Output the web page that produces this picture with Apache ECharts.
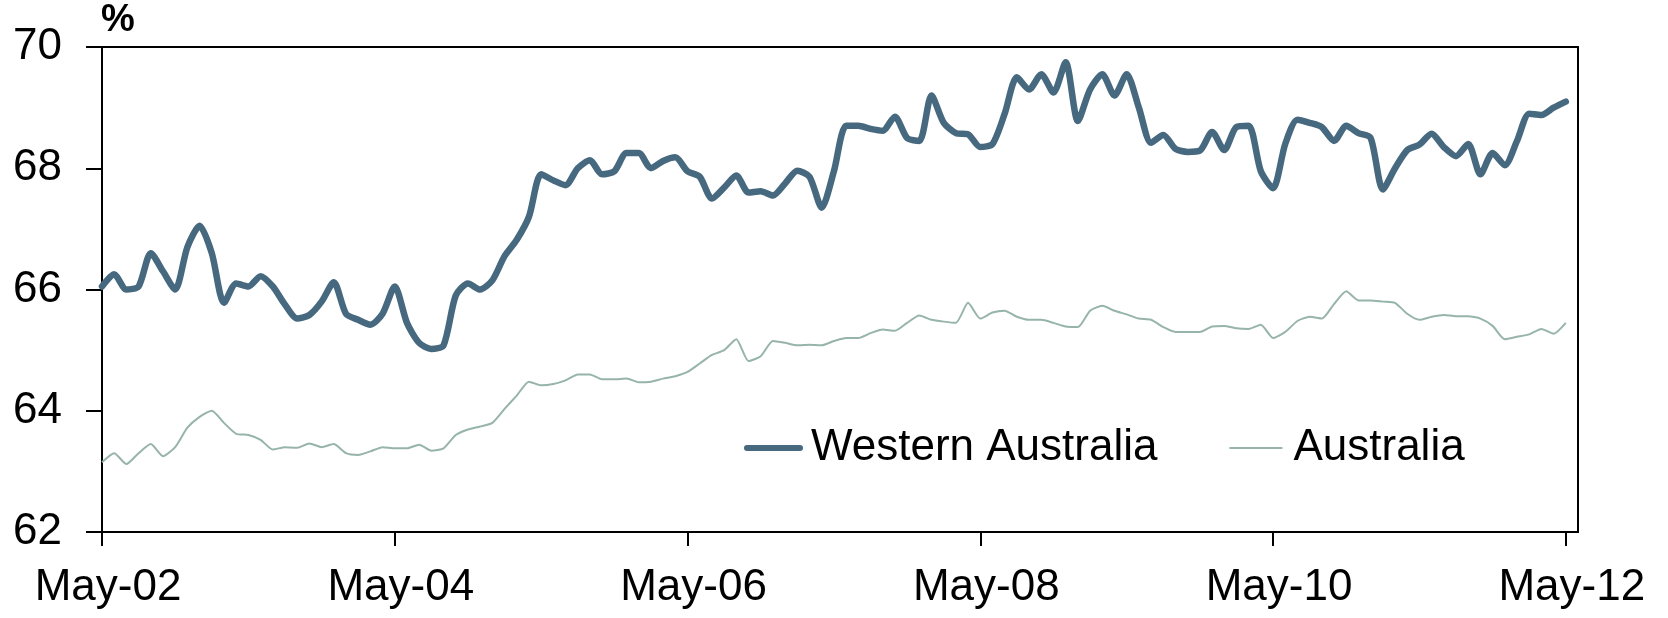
<!DOCTYPE html>
<html>
<head>
<meta charset="utf-8">
<script src="https://cdn.jsdelivr.net/npm/echarts@6/dist/echarts.min.js"></script>
<style>
  html, body { margin: 0; padding: 0; background: #fff; }
  #chart { width: 1668px; height: 618px; }
</style>
</head>
<body>
<div id="chart"></div>
<script>
// Monthly data, May-02 to May-12
const tickLabels = ['May-02', 'May-04', 'May-06', 'May-08', 'May-10', 'May-12'];
const seriesNames = ['Western Australia', 'Australia'];

const waValues = [
  66.05, 66.25, 66.0, 66.05, 66.6, 66.3, 66.0, 66.7, 67.05, 66.6,
  65.78, 66.1, 66.05, 66.22, 66.05, 65.75, 65.52, 65.58, 65.8, 66.12,
  65.6, 65.5, 65.42, 65.6, 66.05, 65.45, 65.12, 65.02, 65.08, 65.9,
  66.1, 66.0, 66.15, 66.55, 66.82, 67.2, 67.9, 67.8, 67.72, 68.0,
  68.13, 67.9, 67.95, 68.25, 68.25, 68.0, 68.12, 68.18, 67.95, 67.86,
  67.5, 67.68, 67.88, 67.6, 67.62, 67.55, 67.75, 67.96, 67.86, 67.35,
  67.95, 68.7, 68.7, 68.65, 68.62, 68.85, 68.5, 68.45, 69.2, 68.75,
  68.58, 68.56, 68.35, 68.4, 68.9, 69.5, 69.3, 69.55, 69.25, 69.75,
  68.78, 69.3, 69.55, 69.2, 69.55, 69.0, 68.42, 68.55, 68.32, 68.27,
  68.29, 68.6, 68.3, 68.68, 68.7, 67.95, 67.67, 68.4, 68.8, 68.75,
  68.68, 68.45, 68.7, 68.58, 68.5, 67.65, 68.0, 68.3, 68.39, 68.57,
  68.35, 68.2, 68.4, 67.9, 68.25, 68.05, 68.45, 68.9, 68.88, 69.0,
  69.1
];

const ausValues = [
  63.15, 63.3, 63.12, 63.3, 63.45, 63.25, 63.4, 63.72, 63.9, 64.0,
  63.8, 63.62, 63.6, 63.52, 63.36, 63.4, 63.39, 63.46, 63.4, 63.45,
  63.3, 63.27, 63.33, 63.4, 63.38, 63.38, 63.44, 63.34, 63.38, 63.6,
  63.69, 63.74, 63.8, 64.03, 64.25, 64.48, 64.42, 64.44, 64.5, 64.6,
  64.6, 64.52, 64.52, 64.53, 64.47, 64.48, 64.53, 64.57, 64.64, 64.78,
  64.92, 65.0, 65.18, 64.82, 64.9, 65.15, 65.12, 65.08, 65.09, 65.08,
  65.15, 65.2, 65.2, 65.28, 65.34, 65.32, 65.45, 65.57, 65.5, 65.47,
  65.45, 65.78, 65.52, 65.62, 65.65, 65.55, 65.5, 65.5, 65.45, 65.39,
  65.38, 65.65, 65.73, 65.65, 65.59, 65.52, 65.5, 65.38, 65.3, 65.3,
  65.3, 65.39, 65.4, 65.36, 65.35, 65.42, 65.2, 65.3, 65.48, 65.55,
  65.52, 65.76, 65.97, 65.82, 65.82, 65.8, 65.78, 65.6, 65.5, 65.55,
  65.58, 65.56, 65.56, 65.52, 65.4, 65.18, 65.22, 65.26, 65.35, 65.27,
  65.45
];

// Month categories (May-02 .. May-12) plus one trailing empty slot for the frame margin
const monthNames = ['Jan','Feb','Mar','Apr','May','Jun','Jul','Aug','Sep','Oct','Nov','Dec'];
const categories = [];
for (let k = 0; k < waValues.length; k++) {
  const m = (4 + k) % 12;
  const y = 2002 + Math.floor((4 + k) / 12);
  categories.push(monthNames[m] + '-' + String(y % 100).padStart(2, '0'));
}
categories.push('');

const FONT = '"Liberation Sans", Arial, sans-serif';
const WA_COLOR = '#47697f';
const AUS_COLOR = '#97b4a9';
const isTick = (idx) => idx % 24 === 0 && idx < waValues.length;

const chart = echarts.init(document.getElementById('chart'), null, { renderer: 'canvas' });
chart.setOption({
  animation: false,
  backgroundColor: '#ffffff',
  grid: {
    left: 102, right: 90, top: 47, bottom: 86,
    show: true, borderColor: '#000', borderWidth: 2, backgroundColor: 'transparent'
  },
  legend: {
    left: 739, top: 421,
    itemWidth: 53, itemHeight: 14, itemGap: 71,
    itemStyle: { opacity: 0 },
    textStyle: { fontFamily: FONT, fontSize: 44, color: '#000', padding: [0, 0, 0, 6] },
    data: [
      { name: seriesNames[0], lineStyle: { width: 6, color: WA_COLOR } },
      { name: seriesNames[1], lineStyle: { width: 2, color: AUS_COLOR } }
    ]
  },
  graphic: [{
    type: 'text', left: 101, top: 2,
    style: { text: '%', font: 'bold 38px ' + FONT, fill: '#000' }
  }],
  xAxis: {
    type: 'category',
    data: categories,
    boundaryGap: false,
    axisLine: { lineStyle: { color: '#000', width: 2 } },
    axisTick: { show: true, interval: (idx) => isTick(idx), length: 14, lineStyle: { color: '#000', width: 2 } },
    axisLabel: {
      interval: (idx) => isTick(idx),
      formatter: (v) => (tickLabels.indexOf(v) >= 0 ? v : ''),
      fontFamily: FONT, fontSize: 44, color: '#000', margin: 34,
      padding: [0, 0, 0, 12]
    },
    splitLine: { show: false }
  },
  yAxis: {
    type: 'value', min: 62, max: 70, interval: 2,
    axisLine: { show: true, lineStyle: { color: '#000', width: 2 } },
    axisTick: { show: true, length: 16, lineStyle: { color: '#000', width: 2 } },
    axisLabel: { fontFamily: FONT, fontSize: 44, color: '#000', margin: 40 },
    splitLine: { show: false }
  },
  series: [
    {
      name: seriesNames[0], type: 'line', data: waValues,
      symbol: 'none', smooth: 0.25,
      lineStyle: { color: WA_COLOR, width: 6.5, join: 'round', cap: 'round' }, itemStyle: { color: WA_COLOR },
      z: 3
    },
    {
      name: seriesNames[1], type: 'line', data: ausValues,
      symbol: 'none', smooth: 0.2,
      lineStyle: { color: AUS_COLOR, width: 2 }, itemStyle: { color: AUS_COLOR },
      z: 2
    }
  ]
});
</script>
</body>
</html>
